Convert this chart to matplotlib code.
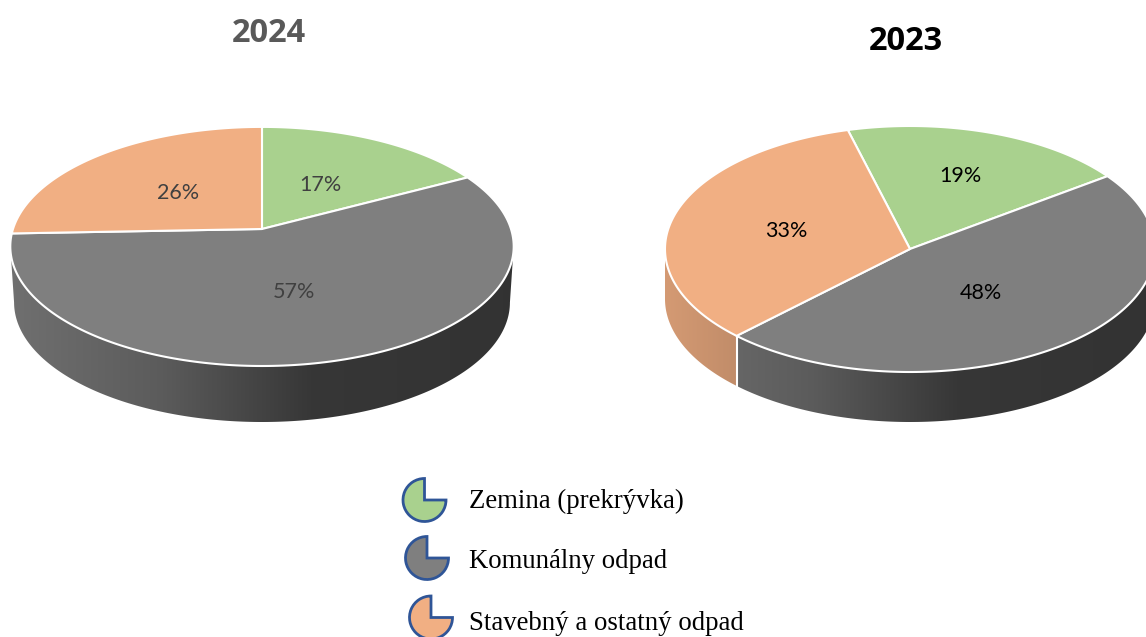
import matplotlib
matplotlib.use("Agg")
import matplotlib.pyplot as plt
from matplotlib.patches import Wedge, Polygon
import numpy as np

years = ["2024", "2023"]
categories = ["Zemina (prekrývka)", "Komunálny odpad", "Stavebný a ostatný odpad"]
values_2024 = [17.2, 57.2, 25.6]
values_2023 = [19.0, 47.6, 33.4]
colors = ["#A9D18E", "#7F7F7F", "#F1AF83"]


def to_pixels(angle, pie):
    # angle in degrees, clockwise from the top, perspective squeeze with k
    a = np.radians(angle)
    x, y = np.sin(a), np.cos(a)
    den = 1 + pie["k"] * y
    return pie["cx"] + pie["a"] * x / den, pie["cy"] - pie["b"] * y / den


def wall_gradient(color, pie):
    t = np.linspace(0, 1, 300)
    f = np.interp(t, [0, 0.3, 0.6, 1], [0.88, 0.72, 0.43, 0.40])
    return np.outer(f, matplotlib.colors.to_rgb(color))[np.newaxis, :, :]


def draw_pie(ax, values, pie):
    bounds = pie["start"] + np.cumsum([0] + values) * 360 / sum(values)
    # only the front of the wall is visible, from silhouette to silhouette
    tangent = np.degrees(np.arcsin(pie["k"]))
    front0, front1 = 90 + tangent, 270 - tangent
    for i, v in enumerate(values):
        a0, a1 = max(bounds[i], front0), min(bounds[i + 1], front1)
        if a1 <= a0:
            continue
        angles = np.linspace(a0, a1, 200)
        xs, ys = to_pixels(angles, pie)
        bx = pie["cx"] + (xs - pie["cx"]) * pie["shrink"]
        by = ys + pie["depth"]
        outline = np.c_[np.r_[xs, bx[::-1]], np.r_[ys, by[::-1]]]
        clip = Polygon(outline, closed=True, transform=ax.transData)
        im = ax.imshow(wall_gradient(colors[i], pie), aspect="auto", interpolation="bilinear",
                       extent=(pie["left"], pie["left"] + 2 * pie["rx"], 440, 200), zorder=2)
        im.set_clip_path(clip)
    # white divider on the wall where a slice boundary faces us
    for b in bounds:
        if front0 < b % 360 < front1:
            x0, y0 = to_pixels(b, pie)
            ax.plot([x0, x0], [y0, y0 + pie["depth"]], color="white", lw=1.5, zorder=3)
    for i, v in enumerate(values):
        angles = np.linspace(bounds[i], bounds[i + 1], 200)
        xs, ys = to_pixels(angles, pie)
        xs = np.r_[pie["cx"], xs]
        ys = np.r_[pie["cy"], ys]
        ax.fill(xs, ys, facecolor=colors[i], edgecolor="white", lw=1.5,
                joinstyle="round", zorder=4)


plt.rcParams["font.family"] = ["Lato", "DejaVu Sans"]
fig = plt.figure(figsize=(11.46, 6.37), dpi=100)
ax = fig.add_axes([0, 0, 1, 1])
ax.axis("off")

pie_2024 = dict(cx=262, cy=229, a=249, b=117, k=0.146, rx=252, left=10,
                start=0, depth=56, shrink=0.985)
pie_2023 = dict(cx=910, cy=249, a=245, b=123, k=0.0, rx=245, left=665,
                start=-14.7, depth=50, shrink=1.0)
draw_pie(ax, values_2024, pie_2024)
draw_pie(ax, values_2023, pie_2023)
ax.set_xlim(0, 1146)
ax.set_ylim(637, 0)

ax.text(268.5, 33, years[0], color="#595959", fontsize=23.5, fontweight="bold",
        family="Open Sans", ha="center", va="center")
ax.text(906, 42, years[1], color="black", fontsize=23.5, fontweight="bold",
        family="Open Sans", ha="center", va="center")

label_pos_2024 = [(320, 185), (294, 292), (178, 193)]
label_pos_2023 = [(960, 176), (981, 293), (786, 231)]
for v, (x, y) in zip(values_2024, label_pos_2024):
    ax.text(x, y, f"{v:.0f}%", color="#404040", fontsize=15.5, ha="center", va="center", zorder=5)
for v, (x, y) in zip(values_2023, label_pos_2023):
    ax.text(x, y, f"{v:.0f}%", color="black", fontsize=15.5, ha="center", va="center", zorder=5)

# legend, hand placed like in the original
icon_pos = [(424.5, 500), (427, 558), (431, 617.5)]
text_y = [501, 562, 623]
for cat, col, (x, y), ty in zip(categories, colors, icon_pos, text_y):
    ax.add_patch(Wedge((x, y), 21.5, 0, 270, facecolor=col, edgecolor="#2F5597", lw=2, zorder=5))
    ax.text(469, ty, cat, family="Liberation Serif", color="black", fontsize=19.3,
            ha="left", va="center")

fig.savefig("out.png", dpi=100)
